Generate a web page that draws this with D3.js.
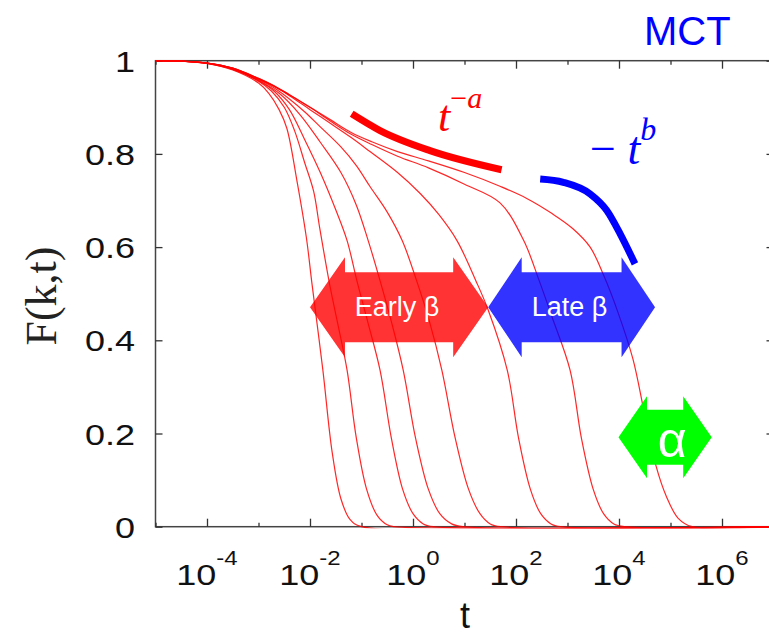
<!DOCTYPE html>
<html>
<head>
<meta charset="utf-8">
<script src="https://cdn.jsdelivr.net/npm/d3@7"></script>
<style>
body { margin: 0; background: #fff; }
text { font-family: "Liberation Sans", Arial, sans-serif; }
</style>
</head>
<body>
<script>
// F(k,t) curves: [log10 t, F]
var curve1 = [[-5,1],[-4.5,0.999],[-4,0.994],[-3.5,0.98],[-3.0,0.952],[-2.8,0.93],[-2.6,0.895],[-2.45,0.855],[-2.25,0.74],[-2.07,0.62],[-1.96,0.52],[-1.75,0.336],[-1.57,0.16],[-1.4,0.06],[-1.22,0.015],[-1.0,0],[7,0]];
var curve2 = [[-5,1],[-4.5,0.999],[-4,0.994],[-3.5,0.981],[-3.0,0.956],[-2.75,0.935],[-2.5,0.9],[-2.3,0.85],[-2.1,0.78],[-1.93,0.72],[-1.81,0.64],[-1.61,0.515],[-1.45,0.43],[-1.28,0.336],[-1.1,0.19],[-0.9,0.08],[-0.7,0.025],[-0.5,0.004],[-0.37,0],[7,0]];
var curve3 = [[-5,1],[-4.5,0.999],[-4,0.994],[-3.5,0.982],[-3.0,0.957],[-2.7,0.935],[-2.4,0.895],[-2.1,0.83],[-1.8,0.76],[-1.5,0.68],[-1.28,0.614],[-1.09,0.528],[-0.88,0.44],[-0.64,0.336],[-0.42,0.19],[-0.2,0.08],[0.0,0.028],[0.2,0.006],[0.39,0],[7,0]];
var curve4 = [[-5,1],[-4.5,0.999],[-4,0.995],[-3.5,0.983],[-3.0,0.958],[-2.6,0.93],[-2.2,0.885],[-1.8,0.825],[-1.4,0.76],[-1.1,0.69],[-0.87,0.614],[-0.64,0.528],[-0.42,0.44],[-0.19,0.336],[0.05,0.19],[0.3,0.08],[0.52,0.028],[0.75,0.006],[0.97,0],[7,0]];
var curve5 = [[-5,1],[-4.5,0.999],[-4,0.995],[-3.5,0.983],[-3.0,0.96],[-2.7,0.942],[-2.4,0.918],[-2.1,0.89],[-1.8,0.858],[-1.4,0.815],[-1.1,0.775],[-0.835,0.73],[-0.5,0.675],[-0.21,0.614],[0.07,0.528],[0.32,0.44],[0.56,0.336],[0.82,0.19],[1.08,0.08],[1.3,0.028],[1.5,0.006],[1.71,0],[7,0]];
var curve6 = [[-5,1],[-4.5,0.999],[-4,0.995],[-3.5,0.984],[-3.0,0.961],[-2.7,0.945],[-2.4,0.925],[-2.0,0.895],[-1.6,0.865],[-1.2,0.835],[-0.835,0.805],[-0.3,0.76],[0.14,0.715],[0.5,0.67],[0.854,0.614],[1.22,0.528],[1.46,0.465],[1.83,0.336],[2.05,0.19],[2.28,0.08],[2.48,0.028],[2.68,0.006],[2.87,0],[7,0]];
var curve7 = [[-5,1],[-4.5,0.999],[-4,0.995],[-3.5,0.984],[-3.0,0.962],[-2.7,0.946],[-2.4,0.927],[-2.0,0.9],[-1.6,0.87],[-1.2,0.842],[-0.8,0.82],[-0.3,0.795],[0.3,0.77],[1.0,0.735],[1.69,0.695],[2.15,0.614],[2.45,0.528],[2.7,0.45],[3.05,0.336],[3.27,0.19],[3.5,0.08],[3.7,0.028],[3.9,0.006],[4.12,0],[7,0]];
var curve8 = [[-5,1],[-4.5,0.999],[-4,0.995],[-3.5,0.984],[-3.0,0.962],[-2.7,0.946],[-2.4,0.927],[-2.0,0.9],[-1.6,0.873],[-1.2,0.846],[-0.8,0.826],[-0.3,0.805],[0.3,0.785],[1.0,0.76],[1.7,0.73],[2.2,0.705],[2.7,0.672],[3.1,0.64],[3.44,0.6],[3.7,0.54],[3.98,0.46],[4.27,0.36],[4.5,0.24],[4.72,0.13],[4.92,0.065],[5.15,0.018],[5.42,0],[7,0]];
var curves = [curve1, curve2, curve3, curve4, curve5, curve6, curve7, curve8];

// guide lines drawn over the curves
var powerLawA = [[-1.19,0.886],[-0.64,0.85],[0.33,0.807],[1.72,0.766]];
var powerLawB = [[2.47,0.746],[2.92,0.739],[3.44,0.714],[3.76,0.679],[4.02,0.629],[4.31,0.564]];

// regime arrows: log10 t from / to, F level
var arrowNames = ["Early β", "Late β", "α"];
var arrowFrom = [-2.0, 1.46, 3.99];
var arrowTo = [1.46, 4.70, 5.80];
var arrowLevel = [0.471, 0.471, 0.192];

var majorExp = [-4, -2, 0, 2, 4, 6];
var minorExp = [-5, -3, -1, 1, 3, 5, 7];
var yTicks = [0, 0.2, 0.4, 0.6, 0.8, 1];
var yLabels = ["0", "0.2", "0.4", "0.6", "0.8", "1"];

var plotLeft = 155.5, plotRight = 773.5, plotTop = 60.7, plotBottom = 526.7;

var svg = d3.select("body")
            .append("svg")
            .attr("width", 769)
            .attr("height", 636);

var x = d3.scaleLog().domain([1e-5, 1e7]).range([plotLeft, plotRight]);
var y = d3.scaleLinear().domain([0, 1]).range([plotBottom, plotTop]);
var pow10 = function(e) { return Math.pow(10, e); };

svg.append("clipPath").attr("id", "plot")
   .append("rect")
   .attr("x", plotLeft).attr("y", plotTop - 1.5)
   .attr("width", plotRight - plotLeft).attr("height", plotBottom - plotTop + 3);

// frame
svg.append("rect")
   .attr("x", plotLeft).attr("y", plotTop)
   .attr("width", plotRight - plotLeft).attr("height", plotBottom - plotTop)
   .attr("fill", "none")
   .attr("stroke", "#444")
   .attr("stroke-width", 1.5);

function ticks(axis, tr) {
  var g = svg.append("g").attr("transform", tr).call(axis);
  g.select(".domain").remove();
  g.selectAll("line").attr("stroke", "#333").attr("stroke-width", 1.3);
  g.selectAll("text").remove();
}
ticks(d3.axisBottom(x).tickValues(majorExp.map(pow10)).tickSize(-8), "translate(0," + plotBottom + ")");
ticks(d3.axisBottom(x).tickValues(minorExp.map(pow10)).tickSize(-4), "translate(0," + plotBottom + ")");
ticks(d3.axisTop(x).tickValues(majorExp.map(pow10)).tickSize(-8), "translate(0," + plotTop + ")");
ticks(d3.axisTop(x).tickValues(minorExp.map(pow10)).tickSize(-4), "translate(0," + plotTop + ")");
ticks(d3.axisLeft(y).tickValues(yTicks).tickSize(-7), "translate(" + plotLeft + ",0)");
ticks(d3.axisRight(y).tickValues(yTicks).tickSize(-7), "translate(" + plotRight + ",0)");

// tick labels
svg.selectAll(".ylab")
   .data(yTicks)
   .enter().append("text")
   .attr("transform", function(d) { return "translate(135," + (y(d) + 11) + ") scale(1.2,1)"; })
   .attr("text-anchor", "end")
   .attr("font-size", 30)
   .attr("fill", "#111")
   .text(function(d, i) { return yLabels[i]; });

var xl = svg.selectAll(".xlab")
   .data(majorExp)
   .enter().append("text")
   .attr("transform", function(d) { return "translate(" + x(pow10(d)) + ",585) scale(1.2,1)"; })
   .attr("text-anchor", "middle")
   .attr("font-size", 30)
   .attr("fill", "#111");
xl.append("tspan").text("10");
xl.append("tspan").attr("dy", -20).attr("font-size", 20).text(function(d) { return d; });

// axis titles
svg.append("text")
   .attr("transform", "translate(56,296) rotate(-90)")
   .attr("text-anchor", "middle")
   .style("font-family", "'Liberation Serif', 'Times New Roman', serif")
   .attr("font-size", 44)
   .attr("fill", "#222")
   .text("F(k,t)");

svg.append("text")
   .attr("x", 465).attr("y", 628)
   .attr("text-anchor", "middle")
   .attr("font-size", 36)
   .attr("fill", "#111")
   .text("t");

// curves
var line = d3.line()
             .x(function(d) { return x(pow10(d[0])); })
             .y(function(d) { return y(d[1]); })
             .curve(d3.curveCatmullRom.alpha(0.5));

svg.append("g")
   .attr("clip-path", "url(#plot)")
   .selectAll("path")
   .data(curves)
   .enter().append("path")
   .attr("d", line)
   .attr("fill", "none")
   .attr("stroke", "#ff0000")
   .attr("stroke-opacity", 0.85)
   .attr("stroke-width", 1.2);

// arrows
var arrowFill = ["rgba(255,0,0,0.8)", "rgba(0,0,255,0.8)", "#00ff00"];
var headLen = [35, 33.5, 28.5], headHalf = [50, 50, 41], shaftHalf = [35, 35, 27.5];
function arrowPath(i) {
  var x0 = x(pow10(arrowFrom[i])), x1 = x(pow10(arrowTo[i])), c = y(arrowLevel[i]);
  var hl = headLen[i], hh = headHalf[i], sh = shaftHalf[i];
  return "M" + x0 + "," + c +
         "L" + (x0 + hl) + "," + (c - hh) + "L" + (x0 + hl) + "," + (c - sh) +
         "L" + (x1 - hl) + "," + (c - sh) + "L" + (x1 - hl) + "," + (c - hh) +
         "L" + x1 + "," + c +
         "L" + (x1 - hl) + "," + (c + hh) + "L" + (x1 - hl) + "," + (c + sh) +
         "L" + (x0 + hl) + "," + (c + sh) + "L" + (x0 + hl) + "," + (c + hh) + "Z";
}
svg.selectAll(".arrow")
   .data(arrowNames)
   .enter().append("path")
   .attr("d", function(d, i) { return arrowPath(i); })
   .attr("fill", function(d, i) { return arrowFill[i]; });

svg.selectAll(".alab")
   .data(arrowNames)
   .enter().append("text")
   .attr("x", function(d, i) { return (x(pow10(arrowFrom[i])) + x(pow10(arrowTo[i]))) / 2 + (i == 2 ? 7 : -2); })
   .attr("y", function(d, i) { return y(arrowLevel[i]) + (i == 2 ? 20 : 9); })
   .attr("text-anchor", "middle")
   .attr("font-size", function(d, i) { return i == 2 ? 50 : 27; })
   .attr("fill", "#fff")
   .text(function(d) { return d; });

// power-law guides
var guide = d3.line()
              .x(function(d) { return x(pow10(d[0])); })
              .y(function(d) { return y(d[1]); })
              .curve(d3.curveMonotoneX);
svg.append("path").attr("d", guide(powerLawA))
   .attr("fill", "none").attr("stroke", "#ff0000").attr("stroke-width", 7);
svg.append("path").attr("d", guide(powerLawB))
   .attr("fill", "none").attr("stroke", "#0000ff").attr("stroke-width", 7);

var serif = "'Liberation Serif', 'Times New Roman', serif";
var ta = svg.append("text")
   .attr("x", 438).attr("y", 131)
   .style("font-family", serif)
   .attr("font-style", "italic")
   .attr("font-size", 44)
   .attr("fill", "#ff0000");
ta.append("tspan").text("t");
ta.append("tspan").attr("dy", -23).attr("font-size", 30).attr("font-style", "normal").text("−");
ta.append("tspan").attr("font-size", 30).text("a");

var tb = svg.append("text")
   .attr("x", 590).attr("y", 164)
   .style("font-family", serif)
   .attr("font-size", 46)
   .attr("fill", "#0000ff");
tb.append("tspan").text("− ");
tb.append("tspan").attr("font-style", "italic").text("t");
tb.append("tspan").attr("dy", -24).attr("font-size", 32).attr("font-style", "italic").text("b");

svg.append("text")
   .attr("x", 644).attr("y", 45)
   .attr("font-size", 40)
   .attr("fill", "#0000ff")
   .text("MCT");
</script>
</body>
</html>
